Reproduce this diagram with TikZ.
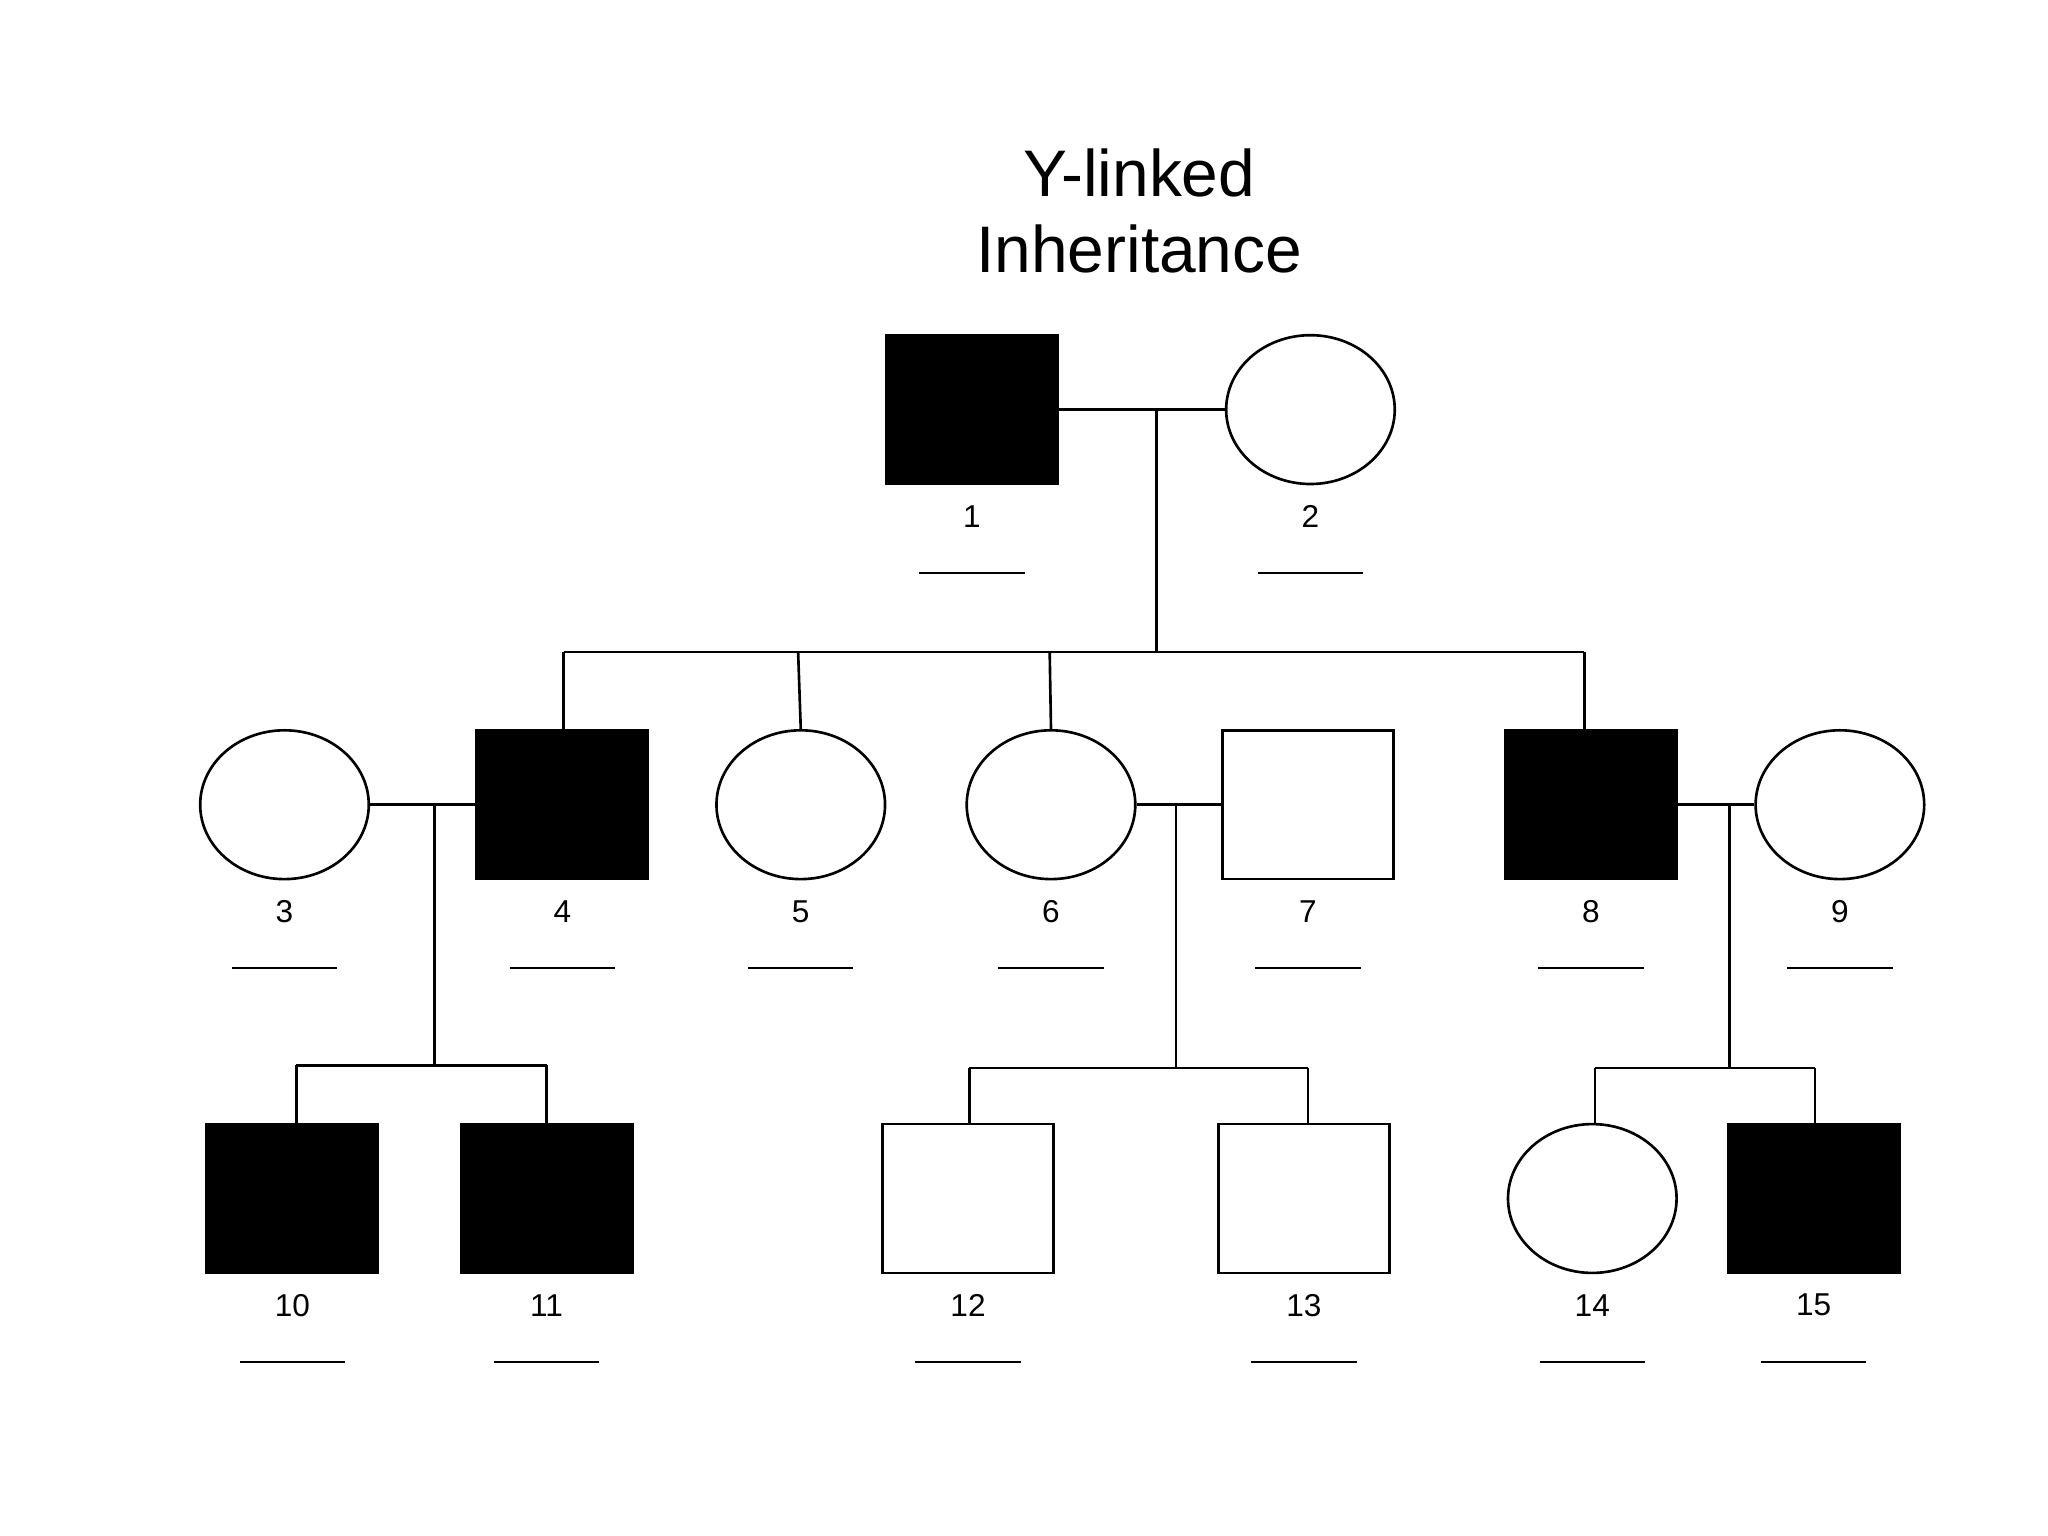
\documentclass[tikz,border=0pt]{standalone}
\usepackage{fontspec}
\setmainfont{Liberation Sans}
\usetikzlibrary{shapes.geometric}
\begin{document}
\begin{tikzpicture}[x=0.5pt,y=-0.5pt,line width=1pt,
 m/.style={draw,minimum width=65pt,minimum height=56.5pt,inner sep=0pt},
 af/.style={m,fill=black},
 f/.style={draw,ellipse,minimum width=64pt,minimum height=56.5pt,inner sep=0pt},
 lab/.style={font=\fontsize{12}{14}\selectfont},
 ul/.style={line width=0.8pt}]
\useasboundingbox (0,0) rectangle (1555,1166);
\node[font=\fontsize{25}{29}\selectfont,align=center] (t) at (865,160) {Y-linked\\Inheritance};
\newcommand\ind[5]{% name, style, x, y, label
 \node[#2] (#1) at (#3,#4) {};
 \node[lab] (l#1) at (#3,#4+81) {#5};
 \draw[ul] (#3-40,#4+124) -- (#3+40,#4+124);}
\ind{n1}{af}{738}{311}{1}
\ind{n2}{f}{995}{311}{2}
\ind{n3}{f}{216}{611}{3}
\ind{n4}{af}{427}{611}{4}
\ind{n5}{f}{608}{611}{5}
\ind{n6}{f}{798}{611}{6}
\ind{n7}{m}{993}{611}{7}
\ind{n8}{af}{1208}{611}{8}
\ind{n9}{f}{1397}{611}{9}
\ind{n10}{af}{222}{910}{10}
\ind{n11}{af}{415}{910}{11}
\ind{n12}{m}{735}{910}{12}
\ind{n13}{m}{990}{910}{13}
\ind{n14}{f}{1209}{910}{14}
\ind{n15}{af}{1377}{910}{15}
% couple 1-2
\draw (n1) -- (n2);
\coordinate (c1) at (878,311); \coordinate (s1) at (878,495);
\draw (c1) -- (s1);
\coordinate (s1a) at (428,495); \coordinate (s1b) at (1203,495);
\draw (s1a) -- (s1b);
\draw (s1a) -- (n4.north -| s1a);
\draw (606,495) -- (n5.north);
\draw (797,495) -- (n6.north);
\draw (s1b) -- (n8.north -| s1b);
% couple 3-4
\draw (n3) -- (n4);
\coordinate (c2) at (330,611); \coordinate (s2) at (330,809);
\draw (c2) -- (s2);
\coordinate (s2a) at (225,809); \coordinate (s2b) at (415,809);
\draw (s2a) -- (s2b);
\draw (s2a) -- (n10.north -| s2a);
\draw (s2b) -- (n11.north);
% couple 6-7
\draw (n6) -- (n7);
\coordinate (c3) at (893,611); \coordinate (s3) at (893,811);
\draw (c3) -- (s3);
\coordinate (s3a) at (736,811); \coordinate (s3b) at (993,811);
\draw (s3a) -- (s3b);
\draw (s3a) -- (n12.north -| s3a);
\draw (s3b) -- (n13.north -| s3b);
% couple 8-9
\draw (n8) -- (n9);
\coordinate (c4) at (1313,611); \coordinate (s4) at (1313,811);
\draw (c4) -- (s4);
\coordinate (s4a) at (1211,811); \coordinate (s4b) at (1378,811);
\draw (s4a) -- (s4b);
\draw (s4a) -- (n14.north -| s4a);
\draw (s4b) -- (n15.north -| s4b);
\end{tikzpicture}
\end{document}
